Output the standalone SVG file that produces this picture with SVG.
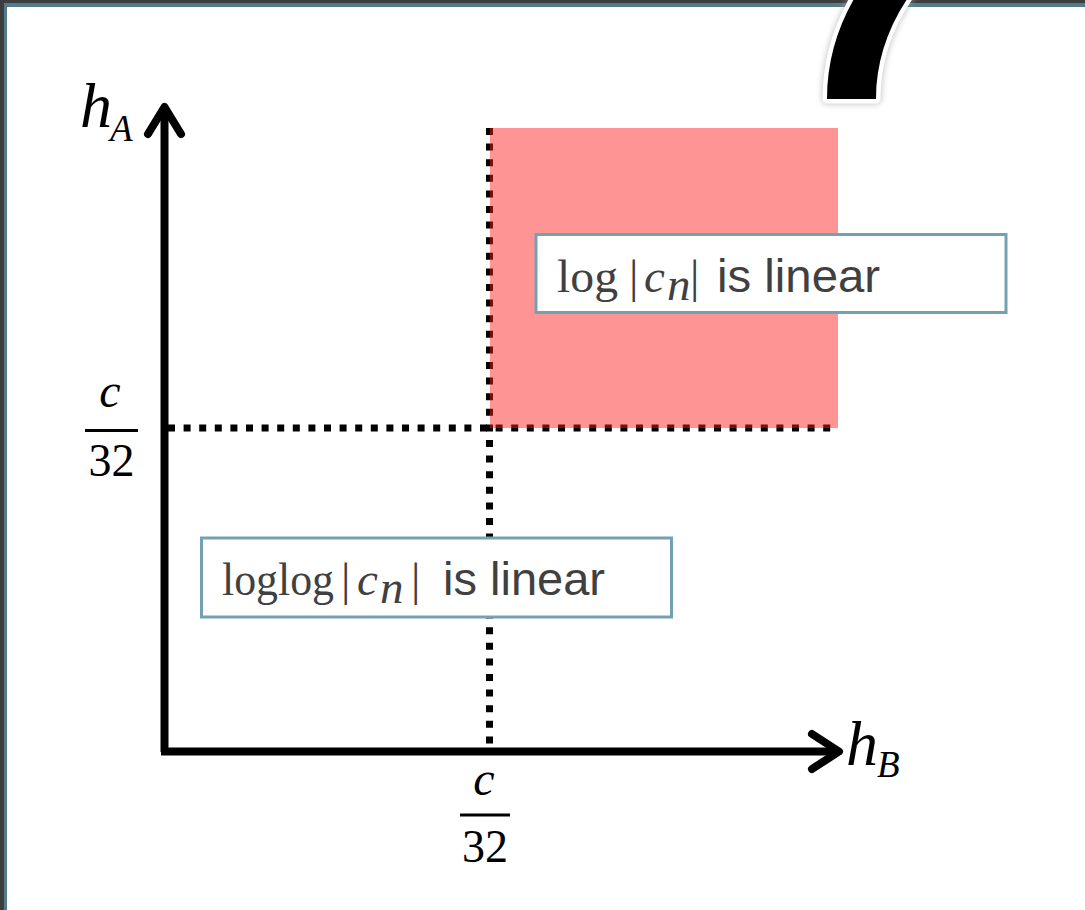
<svg xmlns="http://www.w3.org/2000/svg" width="1085" height="910" viewBox="0 0 1085 910">
  <defs>
    <style>
      .math { font-family: "Liberation Serif", "DejaVu Serif", serif; fill: #000; }
      .it { font-style: italic; }
      .boxtxt { font-family: "Liberation Serif", serif; fill: #404040; font-size: 47px; }
      .sans { font-family: "Liberation Sans", Arial, sans-serif; fill: #404040; font-size: 46px; }
      .box { fill: #ffffff; stroke: #72a2b2; stroke-width: 3; }
      .axis { stroke: #000; stroke-width: 8; fill: none; }
      .head { stroke: #000; stroke-width: 8; fill: none; stroke-linecap: round; stroke-linejoin: round; }
      .dots { stroke: #000; stroke-width: 7; stroke-dasharray: 7 8.6; fill: none; }
      .bar { stroke: #000; stroke-width: 3; }
    </style>
    <filter id="glow" x="-30%" y="-30%" width="160%" height="160%">
      <feGaussianBlur stdDeviation="3"/>
    </filter>
  </defs>

  <rect width="1085" height="910" fill="#ffffff"/>

  <!-- slide frame: dark outer edge with a slate-blue inner line -->
  <g id="frame">
    <rect x="0" y="0" width="1085" height="3" fill="#3d3d3d"/>
    <rect x="0" y="0" width="4" height="910" fill="#3d3d3d"/>
    <rect x="4" y="3" width="1081" height="4" fill="#557b8a"/>
    <rect x="4" y="3" width="3" height="907" fill="#557b8a"/>
  </g>

  <!-- large decorative stroke entering from the top edge -->
  <g id="mark">
    <path d="M827,99 L876,99 C876,62 888,25 912,-8 L858,-8 C838,25 827,60 827,99 Z" fill="#9a9a9a" stroke="#9a9a9a" stroke-width="10" stroke-linejoin="round" filter="url(#glow)" opacity="0.6"/>
    <path d="M827,99 L876,99 C876,62 888,25 912,-8 L858,-8 C838,25 827,60 827,99 Z" fill="#000" stroke="#ffffff" stroke-width="9" stroke-linejoin="round" paint-order="stroke"/>
  </g>

  <!-- dotted threshold lines -->
  <g id="thresholds">
    <line class="dots" x1="489.5" y1="128" x2="489.5" y2="745"/>
    <line class="dots" x1="168" y1="428" x2="838" y2="428"/>
  </g>

  <!-- region where both weights exceed c/32 -->
  <g id="region">
    <rect x="490" y="128" width="348" height="300" fill="#ff1c1c" fill-opacity="0.47"/>
  </g>

  <!-- axes -->
  <g id="connectors">
    <line class="axis" x1="164.5" y1="752" x2="164.5" y2="108"/>
    <polyline class="head" points="148,134 164.5,107 181,134"/>
    <line class="axis" x1="161" y1="751.5" x2="838" y2="751.5"/>
    <polyline class="head" points="812,734 839,751.5 812,769"/>
  </g>

  <!-- axis labels -->
  <g id="label-hA">
    <text class="math it" x="80" y="127" font-size="64">h</text>
    <text class="math it" x="110" y="141" font-size="37">A</text>
  </g>
  <g id="label-hB">
    <text class="math it" x="846" y="765" font-size="64">h</text>
    <text class="math it" x="877" y="777" font-size="37">B</text>
  </g>

  <!-- tick fractions c/32 -->
  <g id="tick-vertical">
    <text class="math it" x="110" y="407" font-size="48" text-anchor="middle">c</text>
    <line class="bar" x1="85" y1="430.5" x2="138" y2="430.5"/>
    <text class="math" x="111.5" y="476" font-size="46" text-anchor="middle">32</text>
  </g>
  <g id="tick-horizontal">
    <text class="math it" x="484" y="795" font-size="48" text-anchor="middle">c</text>
    <line class="bar" x1="460" y1="815" x2="510" y2="815"/>
    <text class="math" x="485" y="862" font-size="46" text-anchor="middle">32</text>
  </g>

  <!-- region annotations -->
  <g id="box-log">
    <rect class="box" x="536" y="234.5" width="470" height="78"/>
    <text class="boxtxt" x="557" y="292" textLength="61" lengthAdjust="spacingAndGlyphs">log</text>
    <text class="boxtxt" x="629" y="292">|</text>
    <text class="boxtxt it" x="644" y="292">c</text>
    <text class="boxtxt it" x="667" y="300" font-size="31">n</text>
    <text class="boxtxt" x="690" y="292">|</text>
    <text class="sans" x="717" y="292" textLength="163" lengthAdjust="spacingAndGlyphs">is linear</text>
  </g>
  <g id="box-loglog">
    <rect class="box" x="201.5" y="538" width="470" height="79"/>
    <text class="boxtxt" x="222" y="595" textLength="112" lengthAdjust="spacingAndGlyphs">loglog</text>
    <text class="boxtxt" x="341" y="595">|</text>
    <text class="boxtxt it" x="357" y="595">c</text>
    <text class="boxtxt it" x="380" y="603" font-size="31">n</text>
    <text class="boxtxt" x="411" y="595">|</text>
    <text class="sans" x="443" y="595" textLength="162" lengthAdjust="spacingAndGlyphs">is linear</text>
  </g>
</svg>
